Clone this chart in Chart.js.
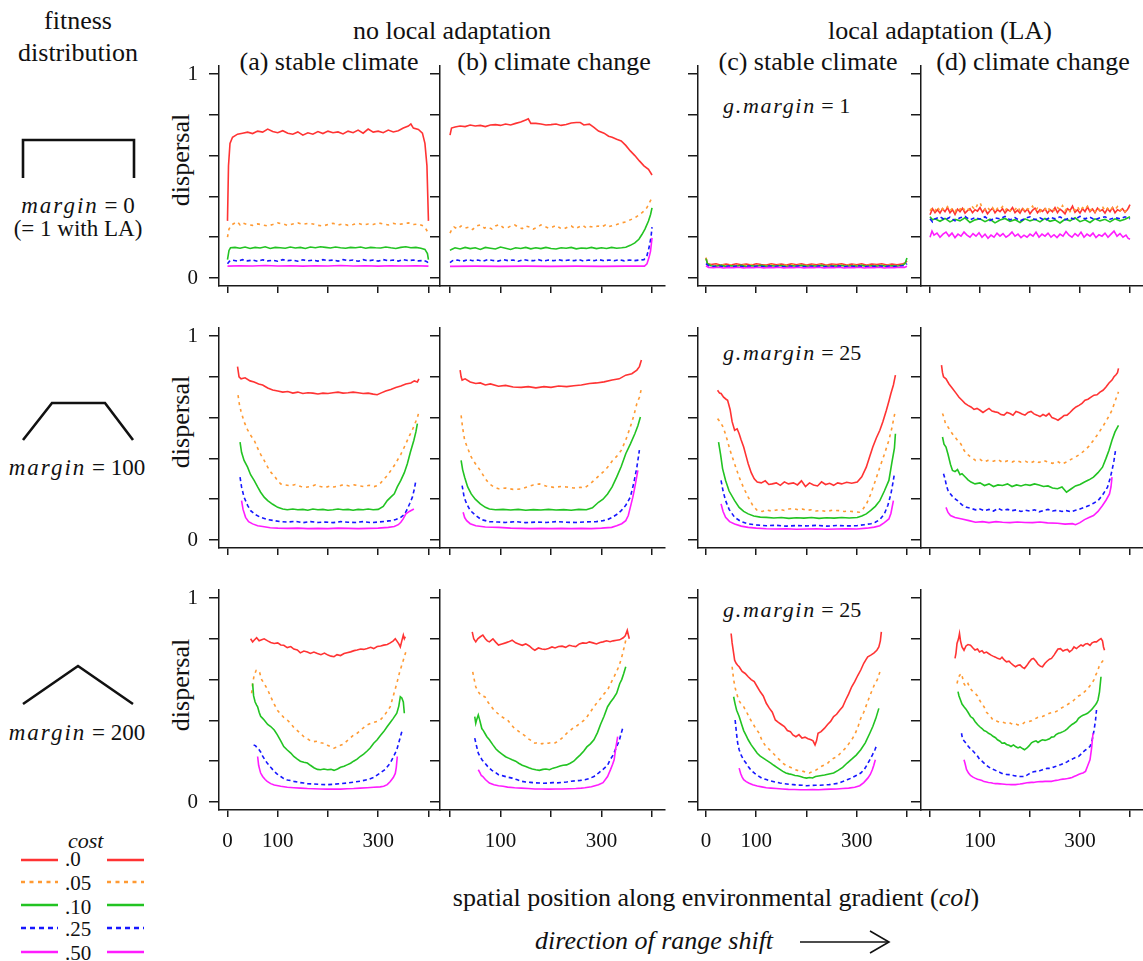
<!DOCTYPE html>
<html><head><meta charset="utf-8">
<script src="https://cdn.jsdelivr.net/npm/chart.js@4.4.1/dist/chart.umd.min.js"></script>
<style>
html,body{margin:0;padding:0;background:#fff;}
body{width:1143px;height:961px;position:relative;overflow:hidden;font-family:'Liberation Serif','Times New Roman',serif;color:#111;}
.t{position:absolute;white-space:nowrap;line-height:1;}
.pc{position:absolute;}
.mg{letter-spacing:2px;}
.gm{letter-spacing:1.7px;}
svg{position:absolute;left:0;top:0;}
</style></head><body>
<svg width="1143" height="961" viewBox="0 0 1143 961">
 <g fill="none" stroke="#111" stroke-width="2.6" stroke-linejoin="miter">
  <polyline points="23,178 23,140 134,140 134,178"/>
  <polyline points="23,440 52,403 105,403 133,440"/>
  <polyline points="23,704 78,666 133,704"/>
 </g>
 <g id="legendLines" fill="none" stroke-width="2.6"></g>
 <g fill="none" stroke="#111" stroke-width="1.6">
  <line x1="800" y1="942" x2="889" y2="942"/>
  <polyline points="870,931 889,942 870,953"/>
 </g>
</svg>
<script>
// ---------- data: x = spatial position (col), y = dispersal ----------
const costLabels = ['.0', '.05', '.10', '.25', '.50'];
const xTicks = [0, 100, 200, 300, 400];
const yTicks = [0, 0.2, 0.4, 0.6, 0.8, 1];

// Row 1: margin = 0
const a1_c0 = [[0,.28],[2,.55],[5,.66],[10,.69],[20,.705],[30,.71],[40,.715],[50,.708],[60,.72],[70,.715],[80,.73],[90,.718],[100,.712],[110,.722],[120,.71],[130,.705],[140,.716],[150,.70],[160,.712],[170,.705],[180,.718],[190,.708],[200,.72],[210,.712],[220,.716],[230,.706],[240,.72],[250,.712],[260,.725],[270,.71],[280,.73],[290,.715],[300,.72],[310,.712],[320,.725],[330,.716],[340,.722],[350,.735],[360,.745],[365,.755],[370,.735],[380,.728],[388,.71],[393,.66],[397,.55],[400,.28]];
const a1_c1 = [[0,.2],[3,.24],[8,.26],[15,.27],[20,.275],[25,.26],[30,.27],[40,.262],[50,.258],[60,.265],[70,.26],[80,.255],[90,.262],[100,.27],[110,.265],[120,.258],[130,.265],[140,.27],[150,.263],[160,.268],[170,.265],[180,.258],[190,.255],[200,.262],[210,.268],[220,.26],[230,.265],[240,.258],[250,.262],[260,.268],[270,.26],[280,.265],[290,.262],[300,.27],[310,.265],[320,.26],[330,.268],[340,.262],[350,.266],[360,.27],[370,.262],[380,.265],[390,.255],[395,.24],[400,.22]];
const a1_c2 = [[0,.09],[3,.135],[6,.148],[15,.15],[25,.146],[35,.152],[45,.145],[55,.15],[65,.147],[75,.153],[85,.145],[95,.15],[105,.148],[115,.146],[125,.152],[135,.147],[145,.15],[155,.145],[165,.152],[175,.148],[185,.153],[195,.15],[205,.147],[215,.152],[225,.148],[235,.146],[245,.15],[255,.148],[265,.152],[275,.146],[285,.15],[295,.148],[305,.147],[315,.152],[325,.148],[335,.145],[345,.15],[355,.153],[365,.148],[375,.15],[385,.146],[393,.14],[398,.12],[400,.09]];
const a1_c3 = [[0,.07],[4,.082],[10,.088],[20,.083],[30,.09],[40,.084],[50,.088],[60,.082],[70,.089],[80,.084],[90,.087],[100,.082],[110,.09],[120,.085],[130,.088],[140,.082],[150,.089],[160,.084],[170,.088],[180,.083],[190,.09],[200,.085],[210,.088],[220,.083],[230,.09],[240,.085],[250,.088],[260,.082],[270,.09],[280,.084],[290,.088],[300,.083],[310,.09],[320,.085],[330,.088],[340,.083],[350,.09],[360,.085],[370,.088],[380,.084],[390,.086],[397,.08],[400,.072]];
const a1_c4 = [[0,.058],[25,.06],[50,.059],[75,.061],[100,.059],[125,.06],[150,.058],[175,.06],[200,.059],[225,.061],[250,.059],[275,.06],[300,.058],[325,.06],[350,.059],[375,.06],[400,.058]];

const b1_c0 = [[0,.70],[3,.735],[10,.74],[20,.745],[30,.742],[40,.75],[50,.745],[60,.748],[70,.742],[80,.75],[90,.752],[100,.748],[110,.755],[120,.75],[130,.758],[140,.765],[150,.775],[155,.78],[160,.758],[170,.758],[180,.755],[190,.75],[200,.752],[210,.755],[220,.748],[230,.752],[240,.76],[250,.762],[258,.762],[265,.75],[276,.754],[285,.738],[294,.72],[305,.71],[314,.695],[321,.69],[330,.68],[339,.672],[348,.65],[357,.623],[366,.6],[375,.574],[384,.55],[393,.533],[400,.505]];
const b1_c1 = [[0,.22],[3,.235],[8,.25],[15,.24],[22,.255],[30,.245],[38,.25],[45,.238],[52,.255],[60,.26],[68,.245],[75,.25],[83,.24],[90,.255],[98,.262],[105,.248],[113,.245],[120,.255],[128,.26],[135,.25],[143,.242],[150,.255],[158,.25],[165,.24],[173,.248],[180,.26],[188,.252],[195,.245],[203,.25],[210,.258],[218,.245],[225,.24],[233,.25],[240,.255],[248,.242],[255,.25],[263,.258],[270,.245],[278,.252],[285,.248],[293,.255],[300,.25],[308,.26],[315,.252],[323,.258],[330,.262],[339,.27],[348,.275],[357,.285],[366,.295],[375,.31],[384,.328],[390,.345],[395,.37],[400,.393]];
const b1_c2 = [[0,.135],[3,.14],[10,.148],[20,.142],[30,.15],[40,.144],[50,.148],[60,.14],[70,.15],[80,.146],[90,.142],[100,.152],[110,.146],[120,.14],[130,.148],[140,.145],[150,.15],[160,.143],[170,.148],[180,.144],[190,.15],[200,.145],[210,.142],[220,.148],[230,.146],[240,.15],[250,.143],[260,.147],[270,.145],[280,.15],[290,.144],[300,.148],[310,.145],[320,.15],[330,.146],[340,.148],[348,.151],[357,.16],[366,.172],[374,.19],[380,.213],[386,.24],[393,.279],[397,.31],[400,.344]];
const b1_c3 = [[0,.075],[5,.085],[15,.088],[25,.082],[35,.09],[45,.085],[55,.088],[65,.082],[75,.09],[85,.086],[95,.083],[105,.09],[115,.085],[125,.088],[135,.082],[145,.09],[155,.086],[165,.085],[175,.09],[185,.083],[195,.088],[205,.085],[215,.09],[225,.084],[235,.088],[245,.085],[255,.09],[265,.083],[275,.088],[285,.085],[295,.09],[305,.084],[315,.088],[325,.085],[335,.09],[345,.084],[355,.088],[365,.085],[375,.088],[384,.09],[390,.11],[394,.148],[398,.2],[400,.249]];
const b1_c4 = [[0,.057],[50,.058],[100,.057],[150,.058],[200,.057],[250,.058],[300,.057],[350,.058],[385,.058],[390,.07],[394,.1],[397,.13],[400,.197]];

const c1_c0 = [[0,.098],[3,.07],[10,.066],[20,.07],[30,.063],[40,.068],[50,.064],[60,.07],[70,.065],[80,.068],[90,.063],[100,.07],[110,.066],[120,.064],[130,.07],[140,.065],[150,.068],[160,.063],[170,.069],[180,.065],[190,.07],[200,.064],[210,.068],[220,.065],[230,.07],[240,.063],[250,.068],[260,.066],[270,.07],[280,.064],[290,.068],[300,.065],[310,.07],[320,.063],[330,.068],[340,.066],[350,.07],[360,.064],[370,.068],[380,.065],[390,.068],[397,.075],[400,.085]];
const c1_c1 = [[0,.1],[3,.072],[10,.064],[20,.06],[30,.066],[40,.061],[50,.065],[60,.06],[70,.064],[80,.062],[90,.066],[100,.06],[110,.064],[120,.061],[130,.066],[140,.06],[150,.064],[160,.062],[170,.066],[180,.06],[190,.065],[200,.061],[210,.064],[220,.06],[230,.066],[240,.062],[250,.064],[260,.06],[270,.065],[280,.062],[290,.066],[300,.06],[310,.064],[320,.061],[330,.066],[340,.06],[350,.064],[360,.062],[370,.065],[380,.06],[390,.064],[397,.07],[400,.08]];
const c1_c2 = [[0,.095],[3,.07],[10,.06],[20,.058],[30,.062],[40,.057],[50,.06],[60,.058],[70,.062],[80,.056],[90,.06],[100,.058],[110,.062],[120,.057],[130,.06],[140,.058],[150,.061],[160,.056],[170,.06],[180,.058],[190,.062],[200,.057],[210,.06],[220,.058],[230,.062],[240,.056],[250,.06],[260,.058],[270,.061],[280,.057],[290,.06],[300,.058],[310,.062],[320,.057],[330,.06],[340,.058],[350,.061],[360,.057],[370,.06],[380,.058],[390,.062],[396,.07],[400,.098]];
const c1_c3 = [[0,.07],[5,.06],[15,.056],[25,.059],[35,.055],[45,.058],[55,.056],[65,.059],[75,.055],[85,.058],[95,.056],[105,.059],[115,.055],[125,.058],[135,.056],[145,.059],[155,.055],[165,.058],[175,.056],[185,.059],[195,.055],[205,.058],[215,.056],[225,.059],[235,.055],[245,.058],[255,.056],[265,.059],[275,.055],[285,.058],[295,.056],[305,.059],[315,.055],[325,.058],[335,.056],[345,.059],[355,.055],[365,.058],[375,.056],[385,.059],[395,.06],[400,.07]];
const c1_c4 = [[0,.06],[5,.052],[15,.05],[25,.053],[35,.049],[45,.052],[55,.05],[65,.053],[75,.049],[85,.052],[95,.05],[105,.053],[115,.049],[125,.052],[135,.05],[145,.053],[155,.049],[165,.052],[175,.05],[185,.053],[195,.049],[205,.052],[215,.05],[225,.053],[235,.049],[245,.052],[255,.05],[265,.053],[275,.049],[285,.052],[295,.05],[305,.053],[315,.049],[325,.052],[335,.05],[345,.053],[355,.049],[365,.052],[375,.05],[385,.053],[395,.052],[400,.058]];

const d1_c0 = [[0,.31],[5,.34],[10,.32],[15,.335],[20,.318],[25,.34],[30,.325],[35,.345],[40,.32],[45,.335],[50,.312],[55,.338],[60,.325],[65,.342],[70,.318],[75,.33],[80,.34],[85,.32],[90,.335],[95,.328],[100,.345],[105,.322],[110,.338],[115,.315],[120,.33],[125,.342],[130,.32],[135,.335],[140,.325],[145,.34],[150,.318],[155,.335],[160,.328],[165,.345],[170,.32],[175,.332],[180,.318],[185,.34],[190,.325],[195,.338],[200,.315],[205,.332],[210,.342],[215,.32],[220,.335],[225,.326],[230,.34],[235,.318],[240,.335],[245,.325],[250,.345],[255,.32],[260,.338],[265,.328],[270,.315],[275,.34],[280,.33],[285,.352],[290,.322],[295,.335],[300,.318],[305,.34],[310,.326],[315,.348],[320,.325],[325,.338],[330,.32],[335,.342],[340,.328],[345,.335],[350,.318],[355,.34],[360,.325],[365,.345],[370,.32],[375,.335],[380,.328],[385,.34],[390,.322],[395,.335],[400,.36]];
const d1_c1 = [[0,.33],[5,.345],[10,.33],[15,.35],[20,.325],[25,.34],[30,.332],[35,.35],[40,.33],[45,.342],[50,.325],[55,.345],[60,.335],[65,.35],[70,.328],[75,.34],[80,.33],[85,.348],[90,.335],[95,.36],[100,.37],[105,.34],[110,.332],[115,.348],[120,.33],[125,.345],[130,.325],[135,.342],[140,.335],[145,.35],[150,.33],[155,.345],[160,.328],[165,.342],[170,.335],[175,.35],[180,.33],[185,.345],[190,.325],[195,.34],[200,.335],[205,.352],[210,.33],[215,.342],[220,.325],[225,.345],[230,.335],[235,.35],[240,.33],[245,.342],[250,.328],[255,.345],[260,.335],[265,.355],[270,.33],[275,.345],[280,.325],[285,.34],[290,.332],[295,.35],[300,.328],[305,.345],[310,.335],[315,.352],[320,.33],[325,.342],[330,.325],[335,.345],[340,.332],[345,.35],[350,.33],[355,.342],[360,.328],[365,.345],[370,.335],[375,.35],[380,.33],[385,.342],[390,.325],[395,.34],[400,.345]];
const d1_c2 = [[0,.3],[5,.285],[10,.29],[20,.278],[30,.292],[40,.275],[50,.288],[60,.28],[70,.295],[80,.272],[90,.285],[100,.29],[110,.276],[120,.288],[130,.27],[140,.284],[150,.292],[160,.278],[170,.286],[180,.272],[190,.29],[200,.28],[210,.288],[220,.275],[230,.292],[240,.278],[250,.285],[260,.27],[270,.288],[280,.28],[290,.295],[300,.276],[310,.285],[320,.272],[330,.29],[340,.28],[350,.288],[360,.275],[370,.29],[380,.28],[390,.288],[400,.3]];
const d1_c3 = [[0,.29],[5,.275],[10,.29],[20,.3],[30,.285],[40,.298],[50,.28],[60,.295],[70,.302],[80,.285],[90,.296],[100,.288],[110,.3],[120,.282],[130,.295],[140,.29],[150,.302],[160,.285],[170,.296],[180,.28],[190,.292],[200,.3],[210,.286],[220,.295],[230,.282],[240,.298],[250,.29],[260,.3],[270,.285],[280,.296],[290,.288],[300,.302],[310,.29],[320,.298],[330,.285],[340,.295],[350,.3],[360,.288],[370,.296],[380,.29],[390,.3],[400,.29]];
const d1_c4 = [[0,.2],[4,.23],[8,.21],[14,.22],[20,.2],[26,.215],[32,.225],[38,.205],[44,.22],[50,.198],[56,.215],[62,.205],[68,.225],[74,.21],[80,.2],[86,.218],[92,.205],[98,.222],[104,.2],[110,.215],[116,.195],[122,.21],[128,.2],[134,.22],[140,.205],[146,.218],[152,.2],[158,.21],[164,.225],[170,.205],[176,.215],[182,.198],[188,.21],[194,.2],[200,.215],[206,.205],[212,.225],[218,.2],[224,.215],[230,.205],[236,.22],[242,.2],[248,.212],[254,.198],[260,.215],[266,.205],[272,.228],[278,.21],[284,.2],[290,.218],[296,.205],[302,.225],[308,.2],[314,.215],[320,.205],[326,.22],[332,.198],[338,.212],[344,.205],[350,.22],[356,.2],[362,.215],[368,.23],[374,.205],[380,.218],[386,.2],[392,.21],[396,.195],[400,.19]];

// Row 2: margin = 100
const a2_c0 = [[20,.85],[23,.80],[27,.79],[35,.795],[45,.78],[53,.775],[62,.765],[70,.76],[80,.745],[90,.735],[100,.73],[110,.725],[120,.728],[130,.72],[140,.725],[150,.718],[160,.722],[170,.72],[180,.716],[190,.72],[200,.718],[210,.722],[220,.725],[230,.72],[240,.722],[250,.725],[260,.722],[270,.718],[280,.72],[290,.715],[298,.712],[305,.72],[315,.73],[325,.738],[335,.748],[345,.755],[355,.765],[365,.77],[372,.78],[378,.775],[381,.79]];
const a2_c1 = [[21,.71],[24,.66],[27,.63],[33,.58],[40,.54],[47,.51],[53,.49],[60,.45],[66,.42],[73,.39],[80,.357],[87,.33],[93,.315],[100,.29],[106,.275],[115,.27],[126,.266],[135,.272],[146,.262],[155,.258],[165,.262],[175,.27],[185,.262],[195,.258],[205,.265],[212,.26],[222,.265],[232,.272],[242,.265],[252,.27],[262,.266],[272,.262],[282,.268],[292,.262],[298,.267],[305,.28],[312,.3],[318,.316],[325,.34],[332,.365],[338,.39],[345,.42],[350,.445],[355,.472],[362,.51],[368,.54],[373,.57],[378,.6],[381,.628]];
const a2_c2 = [[25,.48],[28,.43],[33,.39],[40,.357],[46,.32],[53,.292],[60,.26],[66,.234],[73,.21],[80,.193],[90,.175],[100,.16],[110,.152],[119,.148],[130,.152],[140,.148],[150,.15],[160,.146],[170,.152],[180,.148],[190,.15],[200,.146],[210,.148],[220,.152],[230,.148],[240,.15],[250,.146],[260,.15],[270,.148],[280,.152],[290,.148],[300,.15],[310,.165],[318,.193],[325,.21],[332,.226],[338,.26],[345,.292],[352,.33],[358,.374],[364,.43],[371,.489],[375,.53],[378,.57]];
const a2_c3 = [[25,.308],[28,.26],[33,.21],[40,.17],[46,.144],[55,.125],[66,.111],[80,.1],[93,.095],[105,.09],[120,.088],[135,.092],[150,.085],[165,.09],[180,.086],[195,.088],[210,.085],[225,.09],[240,.087],[255,.086],[270,.09],[285,.085],[300,.088],[315,.092],[325,.095],[335,.1],[345,.111],[352,.125],[358,.152],[363,.18],[368,.21],[372,.25],[375,.292]];
const a2_c4 = [[28,.193],[31,.15],[36,.111],[42,.09],[50,.079],[60,.07],[70,.066],[85,.06],[100,.058],[120,.057],[140,.058],[160,.056],[180,.057],[200,.056],[220,.058],[240,.057],[260,.056],[280,.057],[300,.058],[320,.062],[332,.066],[340,.075],[345,.087],[350,.105],[355,.128],[362,.14],[371,.152]];

const b2_c0 = [[20,.833],[22,.80],[24,.784],[30,.79],[40,.775],[51,.767],[60,.77],[70,.76],[80,.765],[96,.754],[110,.758],[125,.75],[141,.748],[155,.752],[170,.746],[186,.752],[200,.748],[215,.755],[231,.752],[245,.756],[260,.76],[276,.767],[290,.77],[305,.775],[321,.784],[335,.79],[348,.808],[360,.815],[370,.833],[375,.85],[379,.882]];
const b2_c1 = [[22,.611],[25,.55],[29,.489],[35,.45],[42,.407],[50,.375],[60,.341],[70,.3],[78,.275],[87,.26],[96,.251],[110,.255],[125,.248],[141,.25],[155,.262],[165,.27],[177,.275],[190,.265],[205,.258],[220,.262],[231,.26],[245,.255],[258,.258],[267,.256],[276,.272],[285,.292],[295,.315],[304,.335],[312,.357],[322,.39],[330,.41],[339,.439],[348,.49],[357,.554],[364,.61],[370,.669],[375,.7],[379,.743]];
const b2_c2 = [[22,.39],[25,.345],[29,.308],[35,.26],[42,.226],[50,.2],[60,.177],[70,.16],[78,.152],[90,.148],[105,.15],[120,.147],[135,.15],[150,.146],[165,.149],[180,.147],[195,.15],[210,.147],[225,.149],[240,.146],[255,.15],[270,.148],[282,.158],[294,.185],[303,.2],[312,.226],[321,.26],[330,.308],[339,.36],[348,.423],[357,.47],[366,.521],[372,.56],[377,.603]];
const b2_c3 = [[24,.267],[28,.21],[33,.177],[40,.145],[51,.12],[62,.1],[78,.09],[95,.088],[110,.086],[130,.09],[150,.085],[170,.088],[190,.086],[210,.09],[230,.087],[250,.086],[270,.089],[290,.09],[303,.095],[312,.1],[321,.111],[330,.125],[339,.144],[348,.17],[357,.21],[364,.28],[370,.357],[375,.44]];
const b2_c4 = [[26,.136],[29,.11],[33,.095],[40,.08],[51,.07],[70,.064],[96,.062],[120,.058],[140,.057],[160,.056],[180,.057],[200,.056],[220,.057],[240,.056],[260,.057],[280,.056],[300,.058],[320,.062],[330,.07],[340,.08],[348,.095],[353,.12],[357,.16],[362,.21],[366,.259],[372,.341]];

const c2_c0 = [[23,.734],[27,.72],[30,.718],[35,.7],[40,.69],[43,.685],[48,.64],[52,.58],[57,.538],[62,.545],[66,.521],[70,.49],[75,.456],[80,.41],[84,.374],[90,.33],[96,.3],[102,.284],[110,.28],[118,.29],[125,.272],[132,.275],[140,.28],[148,.268],[156,.285],[164,.275],[174,.28],[182,.27],[190,.29],[198,.262],[206,.28],[214,.27],[222,.265],[230,.285],[238,.272],[246,.278],[254,.268],[262,.28],[270,.275],[280,.283],[290,.278],[301,.284],[310,.31],[319,.357],[326,.41],[332,.456],[339,.5],[346,.538],[352,.58],[359,.636],[364,.68],[368,.718],[373,.76],[377,.808]];
const c2_c1 = [[23,.595],[28,.58],[34,.554],[40,.51],[48,.439],[56,.38],[66,.308],[75,.255],[84,.21],[93,.17],[102,.144],[112,.14],[120,.148],[130,.142],[138,.146],[148,.15],[156,.145],[165,.152],[174,.155],[183,.148],[192,.152],[200,.145],[210,.148],[219,.142],[228,.145],[240,.14],[252,.146],[265,.144],[275,.14],[285,.142],[295,.138],[305,.136],[312,.15],[320,.18],[328,.226],[337,.29],[346,.357],[355,.42],[364,.489],[370,.55],[377,.636]];
const c2_c2 = [[25,.48],[29,.42],[33,.35],[39,.292],[46,.24],[57,.193],[66,.16],[75,.14],[84,.128],[95,.118],[108,.112],[120,.111],[135,.108],[150,.11],[165,.106],[180,.109],[195,.107],[210,.11],[225,.106],[240,.109],[255,.107],[270,.11],[285,.108],[301,.11],[310,.118],[319,.128],[328,.145],[337,.165],[346,.193],[355,.24],[364,.292],[370,.38],[375,.45],[377,.521]];
const c2_c3 = [[30,.292],[34,.24],[39,.193],[46,.15],[57,.111],[70,.09],[84,.079],[100,.074],[120,.07],[140,.072],[160,.068],[180,.071],[200,.069],[220,.072],[240,.068],[260,.071],[280,.069],[300,.07],[315,.075],[328,.08],[337,.087],[346,.1],[355,.128],[362,.17],[368,.226],[372,.28],[375,.325]];
const c2_c4 = [[30,.177],[34,.14],[39,.111],[47,.09],[57,.079],[70,.068],[84,.062],[100,.058],[120,.055],[140,.054],[160,.055],[180,.053],[200,.054],[220,.055],[240,.053],[260,.054],[280,.055],[300,.054],[320,.058],[335,.063],[346,.07],[355,.085],[364,.103],[368,.13],[373,.193]];

const d2_c0 = [[23,.857],[25,.82],[27,.8],[32,.79],[38,.765],[45,.743],[52,.72],[58,.70],[64,.685],[70,.67],[76,.66],[82,.652],[88,.64],[94,.645],[100,.636],[106,.625],[112,.635],[118,.645],[124,.632],[130,.628],[136,.625],[142,.615],[148,.612],[154,.625],[160,.62],[166,.612],[172,.63],[178,.625],[184,.618],[190,.612],[196,.625],[202,.63],[208,.618],[214,.612],[220,.605],[226,.615],[232,.608],[238,.62],[244,.6],[250,.595],[256,.587],[262,.598],[268,.61],[274,.612],[280,.625],[286,.64],[292,.652],[298,.66],[304,.67],[310,.685],[316,.69],[322,.7],[328,.71],[334,.712],[340,.725],[346,.734],[352,.75],[358,.77],[364,.784],[368,.80],[372,.81],[375,.82],[377,.841]];
const d2_c1 = [[25,.62],[28,.6],[31,.57],[36,.554],[42,.53],[48,.51],[55,.489],[62,.47],[68,.44],[73,.423],[80,.41],[86,.4],[91,.39],[100,.395],[108,.382],[116,.39],[127,.386],[136,.395],[145,.38],[155,.388],[164,.382],[172,.39],[182,.382],[191,.386],[200,.376],[210,.388],[218,.38],[227,.39],[236,.382],[245,.376],[255,.385],[264,.372],[273,.382],[282,.395],[291,.407],[300,.42],[309,.439],[318,.46],[327,.489],[336,.52],[345,.554],[354,.59],[364,.636],[370,.68],[377,.726]];
const d2_c2 = [[25,.505],[28,.47],[32,.456],[36,.42],[41,.37],[45,.341],[50,.335],[55,.345],[60,.32],[64,.325],[70,.31],[76,.295],[82,.284],[90,.275],[100,.28],[109,.267],[118,.275],[127,.262],[136,.27],[145,.267],[155,.275],[164,.262],[173,.27],[182,.265],[191,.272],[200,.268],[209,.275],[218,.27],[227,.262],[236,.265],[245,.255],[255,.251],[264,.26],[273,.234],[282,.25],[291,.265],[300,.272],[309,.284],[318,.295],[327,.308],[336,.33],[345,.357],[352,.4],[358,.44],[364,.489],[370,.53],[377,.562]];
const d2_c3 = [[27,.325],[30,.3],[33,.265],[36,.243],[41,.225],[46,.21],[55,.193],[64,.172],[73,.16],[82,.155],[91,.148],[100,.152],[109,.144],[118,.15],[127,.142],[136,.155],[145,.145],[155,.15],[164,.144],[173,.148],[182,.14],[191,.146],[200,.142],[209,.148],[218,.138],[227,.145],[236,.15],[245,.142],[255,.146],[264,.14],[273,.144],[282,.138],[291,.146],[300,.152],[309,.16],[318,.169],[327,.18],[336,.193],[345,.22],[355,.259],[360,.3],[364,.341],[368,.39],[371,.439]];
const d2_c4 = [[32,.16],[36,.135],[41,.12],[50,.11],[64,.103],[78,.095],[91,.087],[105,.09],[118,.085],[132,.09],[145,.087],[160,.085],[175,.088],[190,.086],[205,.085],[220,.088],[235,.084],[255,.082],[270,.078],[285,.08],[291,.075],[300,.085],[309,.1],[318,.11],[327,.12],[336,.14],[345,.169],[352,.195],[359,.226],[362,.26],[364,.308]];

// Row 3: margin = 200
const a3_c0 = [[46,.80],[50,.785],[53,.793],[58,.805],[63,.79],[68,.795],[73,.80],[80,.79],[86,.782],[93,.777],[100,.78],[106,.77],[112,.768],[119,.757],[126,.762],[132,.75],[139,.745],[145,.731],[152,.74],[159,.735],[165,.728],[172,.735],[179,.728],[186,.722],[193,.73],[200,.72],[206,.715],[212,.712],[218,.722],[225,.718],[232,.728],[238,.732],[245,.736],[252,.742],[258,.745],[265,.75],[271,.748],[278,.752],[285,.758],[291,.752],[298,.762],[305,.765],[311,.769],[318,.772],[324,.78],[330,.79],[334,.80],[337,.79],[341,.775],[344,.76],[347,.79],[350,.818],[352,.8],[354,.81]];
const a3_c1 = [[48,.533],[50,.58],[53,.62],[57,.645],[60,.647],[64,.635],[68,.6],[73,.581],[80,.55],[86,.516],[93,.48],[99,.451],[106,.43],[112,.415],[119,.402],[126,.385],[132,.365],[139,.35],[145,.337],[152,.32],[159,.31],[165,.3],[172,.296],[179,.298],[186,.29],[192,.288],[199,.278],[206,.27],[212,.264],[219,.27],[225,.278],[232,.285],[238,.3],[245,.315],[252,.33],[258,.337],[265,.352],[271,.365],[278,.378],[285,.385],[291,.39],[298,.395],[304,.402],[311,.42],[318,.445],[324,.467],[330,.52],[337,.581],[343,.64],[350,.695],[353,.72],[356,.744]];
const a3_c2 = [[50,.581],[52,.52],[55,.49],[58,.475],[60,.467],[63,.44],[66,.42],[70,.41],[73,.402],[80,.38],[86,.37],[93,.353],[99,.33],[106,.3],[112,.272],[119,.255],[126,.24],[132,.223],[139,.21],[145,.2],[152,.195],[159,.191],[165,.18],[172,.168],[179,.16],[185,.158],[192,.162],[199,.158],[206,.16],[212,.155],[219,.162],[225,.17],[232,.175],[238,.182],[245,.19],[251,.2],[258,.21],[264,.223],[271,.235],[278,.25],[284,.265],[291,.288],[298,.305],[304,.325],[311,.345],[318,.37],[324,.39],[330,.41],[337,.435],[341,.47],[344,.516],[347,.51],[350,.49],[352,.435]];
const a3_c3 = [[52,.28],[56,.275],[60,.262],[63,.256],[66,.245],[70,.225],[75,.205],[79,.191],[86,.17],[93,.15],[99,.137],[106,.125],[112,.115],[119,.108],[126,.105],[132,.101],[139,.098],[145,.095],[152,.093],[159,.09],[172,.088],[185,.086],[198,.085],[212,.087],[225,.09],[238,.093],[251,.097],[264,.102],[278,.109],[291,.12],[304,.142],[314,.16],[324,.191],[330,.22],[337,.256],[342,.3],[347,.345]];
const a3_c4 = [[60,.223],[62,.18],[64,.16],[66,.142],[70,.125],[75,.11],[79,.101],[86,.09],[93,.083],[106,.077],[119,.072],[132,.07],[145,.068],[159,.066],[172,.065],[185,.064],[198,.063],[212,.064],[225,.063],[238,.065],[251,.066],[264,.068],[278,.07],[291,.072],[304,.074],[311,.077],[318,.085],[324,.1],[330,.12],[334,.14],[336,.17],[338,.223]];

const b3_c0 = [[44,.834],[47,.80],[51,.785],[55,.8],[60,.81],[65,.818],[70,.8],[74,.79],[78,.785],[85,.8],[90,.785],[96,.769],[103,.775],[110,.78],[116,.785],[123,.793],[130,.78],[136,.775],[143,.768],[150,.775],[157,.765],[163,.752],[168,.744],[175,.755],[182,.75],[188,.748],[195,.752],[202,.76],[208,.755],[215,.762],[222,.764],[229,.758],[236,.768],[242,.765],[249,.762],[256,.775],[263,.78],[270,.778],[276,.785],[283,.78],[290,.775],[297,.782],[303,.785],[310,.79],[317,.786],[323,.79],[330,.793],[336,.795],[343,.805],[347,.815],[351,.842],[353,.82],[355,.8]];
const b3_c1 = [[45,.638],[48,.6],[51,.565],[56,.54],[62,.52],[69,.516],[75,.49],[81,.47],[87,.451],[94,.435],[101,.42],[108,.41],[114,.402],[121,.38],[128,.36],[134,.35],[141,.337],[148,.325],[155,.31],[162,.3],[168,.288],[175,.292],[182,.285],[188,.29],[195,.288],[202,.292],[208,.29],[213,.296],[220,.31],[226,.322],[231,.337],[238,.35],[245,.365],[252,.375],[258,.386],[265,.4],[272,.42],[279,.445],[285,.467],[292,.49],[299,.51],[305,.53],[312,.549],[318,.58],[324,.61],[330,.64],[334,.663],[339,.7],[343,.74],[346,.77],[348,.793]];
const b3_c2 = [[49,.419],[51,.386],[53,.405],[56,.427],[59,.4],[63,.36],[66,.35],[69,.337],[73,.32],[78,.305],[85,.28],[91,.26],[96,.248],[103,.235],[110,.222],[116,.215],[123,.207],[130,.2],[136,.19],[143,.18],[150,.174],[156,.168],[163,.162],[170,.158],[177,.155],[184,.16],[190,.162],[197,.158],[204,.166],[211,.17],[218,.176],[224,.18],[231,.182],[238,.19],[245,.2],[251,.215],[258,.231],[265,.25],[271,.27],[278,.285],[285,.305],[292,.34],[298,.38],[305,.42],[312,.467],[318,.49],[324,.51],[330,.533],[336,.58],[340,.6],[344,.63],[348,.663]];
const b3_c3 = [[49,.313],[52,.28],[56,.239],[60,.22],[64,.205],[69,.191],[76,.17],[83,.155],[90,.145],[96,.134],[105,.128],[114,.122],[123,.117],[132,.11],[141,.102],[150,.098],[159,.096],[168,.094],[177,.093],[186,.092],[195,.093],[204,.095],[213,.094],[222,.096],[231,.098],[240,.102],[249,.104],[258,.106],[267,.109],[276,.115],[285,.125],[294,.142],[303,.16],[312,.18],[317,.207],[323,.23],[330,.272],[335,.3],[339,.337],[343,.37]];
const b3_c4 = [[56,.158],[59,.145],[62,.13],[65,.125],[70,.11],[78,.093],[87,.085],[96,.08],[105,.077],[114,.073],[128,.07],[141,.068],[155,.066],[168,.064],[182,.064],[195,.063],[209,.064],[222,.064],[236,.065],[249,.066],[260,.068],[267,.07],[280,.075],[294,.085],[303,.095],[312,.125],[318,.16],[322,.185],[325,.207],[328,.26],[332,.321]];

const c3_c0 = [[50,.826],[52,.78],[55,.73],[57,.695],[60,.68],[63,.67],[66,.663],[72,.64],[78,.63],[84,.614],[90,.6],[96,.59],[102,.565],[108,.54],[114,.52],[120,.484],[126,.46],[132,.44],[138,.402],[144,.39],[150,.38],[156,.37],[162,.35],[168,.345],[173,.329],[179,.32],[185,.33],[191,.313],[197,.318],[203,.31],[209,.305],[213,.3],[217,.28],[220,.3],[223,.337],[229,.345],[236,.362],[242,.38],[248,.395],[254,.419],[260,.43],[266,.45],[272,.467],[278,.5],[284,.53],[290,.565],[296,.59],[302,.62],[308,.647],[314,.68],[319,.7],[322,.712],[328,.72],[334,.73],[340,.744],[344,.76],[347,.79],[349,.834]];
const c3_c1 = [[52,.663],[55,.6],[58,.56],[61,.533],[65,.5],[70,.48],[75,.467],[81,.44],[87,.41],[93,.386],[99,.36],[105,.34],[111,.305],[117,.28],[123,.265],[129,.25],[135,.235],[141,.22],[147,.205],[153,.19],[159,.18],[164,.174],[170,.168],[176,.16],[182,.155],[188,.152],[194,.15],[200,.145],[206,.142],[212,.15],[218,.155],[224,.165],[230,.175],[236,.182],[242,.19],[248,.205],[254,.215],[260,.22],[266,.235],[272,.25],[278,.265],[284,.285],[290,.305],[296,.33],[302,.365],[308,.41],[314,.44],[320,.48],[326,.52],[331,.55],[336,.58],[341,.6],[345,.63],[349,.655]];
const c3_c2 = [[55,.516],[58,.48],[61,.45],[66,.419],[71,.38],[75,.35],[80,.325],[84,.305],[90,.28],[96,.26],[102,.239],[108,.225],[114,.215],[120,.205],[129,.191],[135,.18],[141,.17],[147,.16],[153,.15],[159,.142],[165,.138],[171,.135],[177,.13],[182,.129],[188,.125],[194,.12],[200,.117],[206,.12],[212,.118],[218,.125],[227,.129],[236,.132],[245,.137],[254,.142],[263,.155],[272,.17],[281,.191],[290,.21],[299,.23],[308,.256],[317,.29],[326,.337],[332,.37],[338,.41],[344,.459]];
const c3_c3 = [[58,.402],[61,.33],[63,.29],[66,.256],[70,.23],[75,.205],[80,.19],[84,.174],[90,.155],[97,.14],[104,.128],[111,.117],[120,.11],[129,.103],[138,.098],[147,.093],[156,.09],[165,.087],[174,.085],[183,.083],[192,.082],[200,.08],[209,.081],[218,.082],[227,.082],[236,.084],[245,.085],[254,.088],[263,.092],[272,.1],[281,.109],[290,.118],[299,.13],[308,.142],[315,.16],[320,.18],[326,.207],[331,.23],[336,.255],[340,.28]];
const c3_c4 = [[66,.166],[69,.14],[72,.122],[75,.109],[80,.1],[86,.092],[93,.085],[102,.078],[111,.074],[120,.07],[129,.068],[140,.066],[152,.064],[164,.062],[176,.061],[188,.06],[200,.06],[212,.061],[224,.06],[236,.062],[248,.063],[260,.064],[272,.066],[284,.068],[296,.072],[306,.08],[314,.095],[322,.117],[327,.135],[331,.158],[334,.18],[337,.207]];

const d3_c0 = [[50,.704],[52,.73],[54,.777],[57,.8],[59,.826],[61,.79],[64,.76],[68,.744],[72,.765],[76,.772],[81,.769],[86,.755],[90,.745],[95,.75],[99,.736],[104,.742],[108,.73],[113,.735],[117,.728],[122,.72],[126,.715],[131,.71],[135,.704],[140,.7],[144,.71],[149,.695],[153,.687],[158,.69],[162,.68],[167,.67],[171,.663],[176,.67],[180,.672],[185,.66],[189,.655],[194,.67],[198,.685],[203,.7],[207,.704],[212,.69],[216,.675],[221,.665],[225,.663],[230,.68],[234,.69],[239,.7],[243,.704],[248,.72],[252,.735],[256,.75],[261,.752],[266,.74],[270,.745],[275,.748],[279,.736],[284,.745],[288,.76],[293,.752],[297,.761],[302,.77],[306,.765],[311,.775],[315,.777],[320,.768],[324,.78],[329,.785],[333,.785],[338,.795],[342,.801],[345,.79],[347,.76],[349,.744]];
const d3_c1 = [[54,.581],[56,.6],[59,.62],[63,.63],[66,.6],[68,.58],[72,.565],[76,.58],[81,.555],[86,.54],[90,.533],[95,.52],[99,.5],[104,.48],[108,.467],[113,.44],[117,.43],[122,.415],[126,.402],[131,.4],[135,.395],[140,.39],[144,.392],[149,.388],[153,.386],[158,.39],[162,.385],[167,.38],[171,.383],[176,.378],[180,.378],[185,.382],[189,.39],[194,.392],[198,.394],[203,.398],[207,.405],[212,.41],[216,.415],[221,.418],[225,.419],[230,.425],[234,.43],[239,.435],[243,.438],[248,.44],[252,.443],[257,.45],[261,.458],[266,.465],[270,.472],[275,.478],[279,.484],[284,.49],[288,.5],[293,.51],[297,.52],[302,.525],[306,.533],[311,.545],[315,.555],[320,.57],[324,.581],[328,.6],[331,.62],[335,.64],[338,.663],[342,.68],[345,.69],[347,.695]];
const d3_c2 = [[56,.541],[58,.52],[61,.5],[64,.48],[68,.467],[72,.455],[76,.44],[81,.419],[86,.41],[90,.395],[95,.38],[99,.37],[104,.36],[108,.35],[113,.345],[117,.337],[122,.33],[126,.322],[131,.315],[135,.305],[140,.298],[144,.288],[149,.29],[153,.282],[158,.278],[162,.272],[167,.28],[171,.272],[176,.265],[180,.27],[185,.262],[189,.256],[194,.265],[198,.275],[203,.29],[207,.296],[212,.3],[216,.292],[221,.3],[225,.305],[230,.302],[234,.305],[239,.31],[243,.318],[248,.32],[252,.33],[257,.337],[261,.34],[266,.345],[270,.35],[275,.36],[279,.37],[284,.38],[288,.386],[293,.395],[297,.41],[302,.42],[306,.425],[311,.43],[315,.435],[320,.445],[324,.455],[329,.47],[333,.484],[336,.5],[339,.54],[342,.614]];
const d3_c3 = [[63,.337],[65,.31],[68,.3],[72,.288],[76,.275],[81,.26],[86,.25],[90,.239],[95,.225],[99,.21],[104,.2],[108,.191],[113,.18],[117,.172],[122,.165],[126,.16],[131,.155],[135,.15],[140,.145],[144,.14],[149,.138],[153,.135],[158,.134],[162,.134],[167,.13],[171,.128],[176,.127],[180,.125],[185,.125],[189,.125],[194,.132],[198,.138],[203,.145],[207,.148],[212,.15],[216,.15],[221,.155],[225,.158],[230,.162],[234,.165],[239,.165],[243,.166],[248,.172],[252,.175],[257,.18],[261,.183],[266,.188],[270,.191],[275,.198],[279,.205],[284,.21],[288,.215],[293,.22],[297,.223],[302,.235],[306,.245],[311,.255],[315,.262],[320,.272],[324,.3],[328,.35],[331,.4],[333,.451]];
const d3_c4 = [[68,.207],[70,.19],[73,.16],[77,.142],[81,.13],[86,.122],[90,.117],[95,.112],[99,.109],[104,.105],[108,.1],[113,.098],[117,.096],[122,.094],[126,.092],[131,.09],[135,.09],[140,.089],[144,.088],[149,.087],[153,.086],[158,.086],[162,.085],[167,.086],[171,.085],[176,.087],[180,.088],[185,.09],[189,.092],[194,.094],[198,.095],[203,.096],[207,.096],[212,.098],[216,.099],[221,.1],[225,.1],[230,.101],[234,.102],[239,.101],[243,.101],[248,.104],[252,.106],[257,.108],[261,.11],[266,.112],[270,.113],[275,.115],[279,.117],[284,.12],[288,.125],[293,.13],[297,.135],[302,.14],[306,.142],[311,.15],[315,.175],[320,.207],[323,.26],[326,.337]];

// ---------- styles & layout (kept apart from data) ----------
const seriesColors = ['#ff3333', '#ff9a33', '#22c322', '#1717ff', '#ff1cff'];
const seriesDash = [[], [3, 4], [], [4, 3], []];
const SERIF = "'Liberation Serif','Times New Roman',serif";

const panels = [
  [[a1_c0,a1_c1,a1_c2,a1_c3,a1_c4],[b1_c0,b1_c1,b1_c2,b1_c3,b1_c4],[c1_c0,c1_c1,c1_c2,c1_c3,c1_c4],[d1_c0,d1_c1,d1_c2,d1_c3,d1_c4]],
  [[a2_c0,a2_c1,a2_c2,a2_c3,a2_c4],[b2_c0,b2_c1,b2_c2,b2_c3,b2_c4],[c2_c0,c2_c1,c2_c2,c2_c3,c2_c4],[d2_c0,d2_c1,d2_c2,d2_c3,d2_c4]],
  [[a3_c0,a3_c1,a3_c2,a3_c3,a3_c4],[b3_c0,b3_c1,b3_c2,b3_c3,b3_c4],[c3_c0,c3_c1,c3_c2,c3_c3,c3_c4],[d3_c0,d3_c1,d3_c2,d3_c3,d3_c4]]
];

const COLS = [
  {ax:219, w:221, min:-16.9, max:423,   labels:[0,100,300]},
  {ax:440, w:225, min:-19.8, max:425.7, labels:[100,300]},
  {ax:698, w:223, min:-15.9, max:427.9, labels:[0,100,300]},
  {ax:921, w:222, min:-18,   max:426,   labels:[100,300]}
];
const ROWS = [
  {T:66,  B:286, y1:74,  y0:278},
  {T:328, B:548, y1:336, y0:540},
  {T:590, B:810, y1:598, y0:802}
];
const LP = 60, PT = 28, PR = 12, BP = 50;

function txt(html, x, base, fs, align, extra) {
  const d = document.createElement('div');
  d.className = 't';
  d.innerHTML = html;
  d.style.fontSize = fs + 'px';
  d.style.top = (base - 0.8375 * fs) + 'px';
  d.style.left = x + 'px';
  if (align === 'center') d.style.transform = 'translateX(-50%)';
  if (extra) Object.assign(d.style, extra);
  document.body.appendChild(d);
  return d;
}

// headings
txt('fitness', 78, 30, 26, 'center');
txt('distribution', 78, 62, 26, 'center');
txt('no local adaptation', 452, 40, 26, 'center');
txt('local adaptation (LA)', 940, 40, 26, 'center');
txt('(a) stable climate', 329, 71, 26, 'center');
txt('(b) climate change', 554, 71, 26, 'center');
txt('(c) stable climate', 808, 71, 26, 'center');
txt('(d) climate change', 1033, 71, 26, 'center');

// left labels
txt('<i class="mg">margin</i> = 0', 78, 213, 23, 'center');
txt('(= 1 with LA)', 78, 236, 23, 'center');
txt('<i class="mg">margin</i> = 100', 77, 475, 23, 'center');
txt('<i class="mg">margin</i> = 200', 77, 740, 23, 'center');

// g.margin annotations
txt('<i class="gm">g.margin</i> = 1', 723, 113, 22, 'left');
txt('<i class="gm">g.margin</i> = 25', 723, 360, 22, 'left');
txt('<i class="gm">g.margin</i> = 25', 723, 617, 22, 'left');

// y-axis titles
[160, 422, 685].forEach(yc => {
  const d = document.createElement('div');
  d.className = 't';
  d.textContent = 'dispersal';
  d.style.fontSize = '26px';
  d.style.left = '181px';
  d.style.top = yc + 'px';
  d.style.transform = 'translate(-50%,-50%) rotate(-90deg)';
  document.body.appendChild(d);
});

// bottom labels
txt('spatial position along environmental gradient (<i>col</i>)', 716, 907, 26, 'center');
txt('<i>direction of range shift</i>', 535, 950, 26, 'left');

// legend
txt('<i>cost</i>', 68, 848, 22, 'left');
const legendY = [860, 882, 905, 928, 952];
const legendBase = [867, 891, 915, 937, 961];
const lg = document.getElementById('legendLines');
costLabels.forEach((lab, i) => {
  txt(lab, 65, legendBase[i], 21, 'left');
  [[21, 58], [107, 144]].forEach(([x1, x2]) => {
    const l = document.createElementNS('http://www.w3.org/2000/svg', 'line');
    l.setAttribute('x1', x1); l.setAttribute('x2', x2);
    l.setAttribute('y1', legendY[i]); l.setAttribute('y2', legendY[i]);
    l.setAttribute('stroke', seriesColors[i]);
    if (seriesDash[i].length) l.setAttribute('stroke-dasharray', i === 1 ? '4 4.5' : '5 4');
    lg.appendChild(l);
  });
});

// ---------- charts ----------
ROWS.forEach((row, r) => {
  COLS.forEach((col, c) => {
    const W = LP + col.w + PR;
    const H = PT + (row.B - row.T) + BP;
    const cv = document.createElement('canvas');
    cv.width = W; cv.height = H;
    cv.className = 'pc';
    cv.style.left = (col.ax - LP) + 'px';
    cv.style.top = (row.T - PT) + 'px';
    cv.style.width = W + 'px'; cv.style.height = H + 'px';
    document.body.appendChild(cv);

    const span = row.y0 - row.y1;
    const yMin = -(row.B - row.y0) / span;
    const yMax = 1 + (row.y1 - row.T) / span;

    const datasets = panels[r][c].map((arr, i) => ({
      label: costLabels[i],
      data: arr.map(p => ({x: p[0], y: p[1]})),
      borderColor: seriesColors[i],
      borderWidth: 1.6,
      borderDash: seriesDash[i],
      pointRadius: 0,
      fill: false,
      tension: 0,
      order: 5 - i
    }));

    new Chart(cv, {
      type: 'line',
      data: {datasets},
      options: {
        responsive: false,
        animation: false,
        events: [],
        layout: {padding: {left: 0, top: PT, right: PR, bottom: 0}},
        plugins: {legend: {display: false}, tooltip: {enabled: false}},
        scales: {
          x: {
            type: 'linear', min: col.min, max: col.max,
            afterFit: s => { s.height = BP; },
            afterBuildTicks: s => { s.ticks = xTicks.map(v => ({value: v})); },
            border: {display: true, color: '#1a1a1a', width: 1.5},
            grid: {display: true, drawOnChartArea: false, drawTicks: true, tickLength: 7, color: '#1a1a1a', lineWidth: 1.5},
            ticks: {
              autoSkip: false, maxRotation: 0, padding: 12, color: '#111',
              font: {family: SERIF, size: 21},
              callback: v => (r === 2 && col.labels.includes(v)) ? String(v) : ''
            }
          },
          y: {
            type: 'linear', min: yMin, max: yMax,
            afterFit: s => { s.width = LP; },
            afterBuildTicks: s => { s.ticks = yTicks.map(v => ({value: v})); },
            border: {display: true, color: '#1a1a1a', width: 1.5},
            grid: {display: true, drawOnChartArea: false, drawTicks: true, tickLength: 10, color: '#1a1a1a', lineWidth: 1.5},
            ticks: {
              autoSkip: false, padding: 11, color: '#111',
              font: {family: SERIF, size: 21},
              callback: v => (c === 0 && (v === 0 || v === 1)) ? String(v) : ''
            }
          }
        }
      }
    });
  });
});
</script>
</body></html>
